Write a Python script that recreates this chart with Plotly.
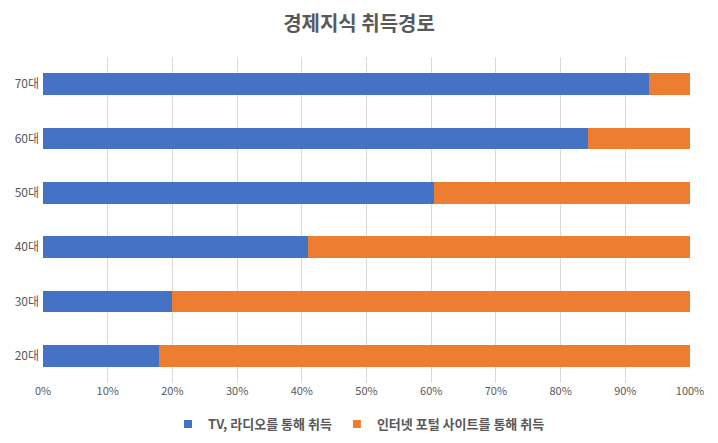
import plotly.graph_objects as go

categories = ["20대", "30대", "40대", "50대", "60대", "70대"]
tv_radio = [17.9, 19.9, 41.0, 60.4, 84.2, 93.6]
internet = [round(100 - v, 1) for v in tv_radio]
series_names = ["TV, 라디오를 통해 취득", "인터넷 포털 사이트를 통해 취득"]
colors = ["#4472C4", "#ED7D31"]
x_ticks = list(range(0, 101, 10))
x_tick_labels = [f"{t}%" for t in x_ticks]

FONT = "Noto Sans CJK KR"
GREY = "#595959"

fig = go.Figure()
for vals, name, col in zip([tv_radio, internet], series_names, colors):
    fig.add_trace(go.Bar(y=categories, x=vals, orientation="h", name=name, showlegend=False,
                         marker=dict(color=col, line=dict(width=0))))
# legend entries with small square symbols
for name, col in zip(series_names, colors):
    fig.add_trace(go.Scatter(x=[None], y=[None], mode="markers", name=name,
                             marker=dict(symbol="square", size=8, color=col)))

fig.update_layout(
    width=702, height=427,
    barmode="stack", bargap=0.6,
    paper_bgcolor="white", plot_bgcolor="white",
    margin=dict(l=35, r=20, t=49, b=52, autoexpand=False),
    font=dict(family=FONT, size=11, color=GREY),
    title=dict(text="<b>경제지식 취득경로</b>", x=0.5, xanchor="center", y=1 - 16 / 427, yanchor="middle",
               font=dict(family=FONT, size=20, color=GREY)),
    xaxis=dict(range=[0, 100], tickvals=x_ticks, ticktext=x_tick_labels,
               showgrid=True, gridcolor="#D9D9D9", gridwidth=1, zeroline=False,
               showline=False, ticks="", tickfont=dict(size=11, color=GREY)),
    yaxis=dict(categoryorder="array", categoryarray=categories, showgrid=False,
               showline=False, ticks="", ticklabelstandoff=3, tickfont=dict(size=12, color=GREY)),
    legend=dict(orientation="h", xref="container", x=0.5, xanchor="center", y=-0.126, yanchor="middle",
                font=dict(family=FONT, size=13, color=GREY, weight="bold"), traceorder="normal",
                itemwidth=30),
    showlegend=True,
)

fig.write_html("out.html")
